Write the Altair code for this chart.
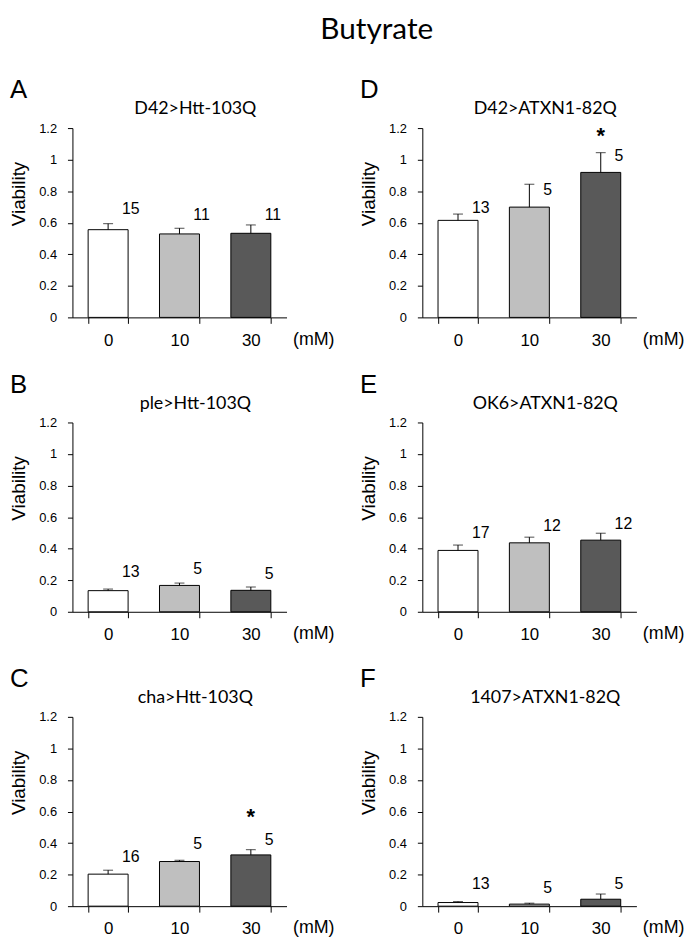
import altair as alt
import pandas as pd

doses = ["0", "10", "30"]
bar_colors = ["#ffffff", "#bfbfbf", "#595959"]
letters = ["A", "B", "C", "D", "E", "F"]
titles = ["D42>Htt-103Q", "ple>Htt-103Q", "cha>Htt-103Q",
          "D42>ATXN1-82Q", "OK6>ATXN1-82Q", "1407>ATXN1-82Q"]
means = [
    [0.556, 0.529, 0.533],
    [0.134, 0.167, 0.136],
    [0.203, 0.283, 0.325],
    [0.615, 0.699, 0.919],
    [0.389, 0.437, 0.454],
    [0.023, 0.013, 0.044],
]
upper = [
    [0.594, 0.565, 0.586],
    [0.144, 0.182, 0.157],
    [0.228, 0.291, 0.358],
    [0.655, 0.844, 1.044],
    [0.423, 0.473, 0.498],
    [0.029, 0.019, 0.077],
]
counts = [
    [15, 11, 11],
    [13, 5, 5],
    [16, 5, 5],
    [13, 5, 5],
    [17, 12, 12],
    [13, 5, 5],
]
count_y = [
    [0.688, 0.646, 0.646],
    [0.253, 0.274, 0.238],
    [0.310, 0.396, 0.421],
    [0.696, 0.809, 1.025],
    [0.496, 0.544, 0.559],
    [0.138, 0.115, 0.142],
]
stars = [
    ["", "", ""],
    ["", "", ""],
    ["", "", "*"],
    ["", "", "*"],
    ["", "", ""],
    ["", "", ""],
]
star_y = [
    [0, 0, 0],
    [0, 0, 0],
    [0, 0, 0.565],
    [0, 0, 1.150],
    [0, 0, 0],
    [0, 0, 0],
]
y_ticks = [0, 0.2, 0.4, 0.6, 0.8, 1.0, 1.2]

W, H = 216, 191
AX_FONT = "Liberation Sans"
TI_FONT = "Lato"

y_axis = alt.Axis(
    values=y_ticks, format="~g", title="Viability", grid=False,
    tickSize=5, labelPadding=11, labelFontSize=13, labelFont=AX_FONT,
    labelOverlap=False, labelColor="black", tickColor="black", domainColor="black",
    titleFont=AX_FONT, titleFontSize=19, titleFontWeight="normal",
    titleAngle=270, titleAlign="center", titleBaseline="bottom",
    titleX=-44, titleY=66, titleColor="black",
)
y_scale = alt.Scale(domain=[0, 1.2], nice=False, zero=True)


def Y(field):
    return alt.Y(field, scale=y_scale, axis=y_axis, title="Viability")


def panel(i):
    df = pd.DataFrame({
        "dose": doses,
        "mean": means[i],
        "upper": upper[i],
        "n": [str(v) for v in counts[i]],
        "ny": count_y[i],
        "star": stars[i],
        "sy": star_y[i],
    })
    x = alt.X(
        "dose:N", sort=doses,
        scale=alt.Scale(paddingInner=0.44, paddingOuter=0.22),
        axis=alt.Axis(
            title="(mM)", labelAngle=0, tickBand="extent", tickSize=6,
            labelFontSize=17, labelPadding=9, labelFont=AX_FONT,
            titleFont=AX_FONT, titleFontSize=18, titleFontWeight="normal",
            titleAlign="left", titleBaseline="middle", titleX=W + 6, titleY=22,
        ),
    )
    base = alt.Chart(df).encode(x=x)
    bars = base.mark_bar(stroke="black", strokeWidth=1).encode(
        y=Y("mean:Q"),
        color=alt.Color("dose:N", scale=alt.Scale(domain=doses, range=bar_colors), legend=None),
    )
    err = base.mark_rule(color="black", strokeWidth=1).encode(y=Y("mean:Q"), y2="upper:Q")
    cap = base.mark_tick(color="black", thickness=1, size=10, orient="horizontal").encode(y=Y("upper:Q"))
    nlab = base.mark_text(align="left", baseline="middle", dx=14, fontSize=16,
                          font=AX_FONT, color="black").encode(y=Y("ny:Q"), text="n:N")
    star = base.transform_filter("datum.star != ''").mark_text(
        baseline="middle", fontSize=22, fontWeight="bold", font=AX_FONT, color="black"
    ).encode(y=Y("sy:Q"), text="star:N")
    letter = alt.Chart(pd.DataFrame({"t": [letters[i]]})).mark_text(
        align="left", baseline="alphabetic", fontSize=26, font=AX_FONT, color="black"
    ).encode(x=alt.value(-63), y=alt.value(-30), text="t:N")
    name = alt.Chart(pd.DataFrame({"t": [titles[i]]})).mark_text(
        align="center", baseline="alphabetic", fontSize=18, font=TI_FONT, color="black"
    ).encode(x=alt.value(W / 2 + 16), y=alt.value(-14), text="t:N")
    return alt.layer(bars, err, cap, nlab, star, letter, name).properties(width=W, height=H)


rows = []
for r in range(3):
    rows.append(alt.hconcat(panel(r), panel(r + 3), spacing=26))

chart = alt.vconcat(*rows, spacing=24).properties(
    title=alt.TitleParams("Butyrate", fontSize=30, font=TI_FONT, fontWeight="normal",
                          anchor="middle", dx=30, offset=33, color="black"),
    padding={"left": 2, "top": 3, "right": 0, "bottom": 0},
).configure_view(stroke=None).configure_axis(
    domainColor="black", tickColor="black", labelColor="black", titleColor="black",
    domainWidth=1, tickWidth=1,
).configure_axisY(labelFontSize=13, labelFont=AX_FONT, labelPadding=11, tickSize=5)

chart.save("out.html", embed_options={"renderer": "svg", "actions": False})
